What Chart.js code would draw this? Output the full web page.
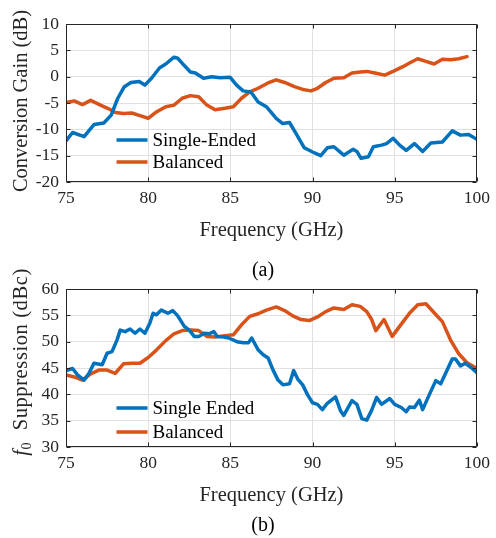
<!DOCTYPE html>
<html>
<head>
<meta charset="utf-8">
<script src="https://cdn.jsdelivr.net/npm/chart.js@4.4.1/dist/chart.umd.min.js"></script>
<style>
  body { margin: 0; background: #fff; }
  #fig { position: relative; width: 496px; height: 538px; font-family: 'Liberation Serif', 'Times New Roman', serif; }
  #fig canvas { position: absolute; left: 0; }
  .cap { position: absolute; left: 213px; width: 100px; text-align: center; font-size: 20px; line-height: 20px; color: #000; }
</style>
</head>
<body>
<div id="fig">
  <canvas id="gainChart" width="496" height="250" style="top:0"></canvas>
  <canvas id="suppChart" width="496" height="250" style="top:265px"></canvas>
  <div class="cap" style="top:259px">(a)</div>
  <div class="cap" style="top:514px">(b)</div>
</div>
<script>
// (a) conversion gain, dB
const seFreqA = [75.0, 75.4, 76.1, 76.7, 77.3, 77.75, 78.15, 78.55, 78.95, 79.45, 79.8, 80.2, 80.7, 81.07, 81.57, 81.8, 82.17, 82.57, 82.87, 83.37,
  83.87, 84.38, 84.98, 85.38, 85.78, 86.25, 86.69, 87.19, 87.79, 88.19, 88.6, 89.0, 89.5, 90.0, 90.5, 90.9, 91.3, 91.9, 92.47, 92.7,
  92.95, 93.4, 93.7, 94.2, 94.5, 94.9, 95.3, 95.7, 96.2, 96.7, 97.2, 97.9, 98.5, 99.0, 99.5, 100.0];
const seGainA = [-12.2, -10.6, -11.4, -9.1, -8.8, -7.3, -4.1, -1.9, -1.1, -0.9, -1.6, -0.3, 1.7, 2.4, 3.7, 3.5, 2.2, 0.9, 0.7, -0.3,
  0.0, -0.2, -0.1, -1.6, -2.7, -2.9, -4.8, -5.7, -7.9, -8.9, -8.7, -10.8, -13.5, -14.3, -15.0, -13.5, -13.3, -14.9, -13.8, -14.2,
  -15.5, -15.2, -13.3, -13.0, -12.7, -11.7, -13.0, -14.0, -12.7, -14.2, -12.6, -12.4, -10.3, -11.1, -11.0, -11.9];
const balFreqA = [75.0, 75.5, 76.0, 76.5, 77.1, 77.6, 78.0, 78.5, 79.0, 79.5, 80.0, 80.5, 81.07, 81.57, 82.07, 82.57, 83.07, 83.57, 84.07, 84.67,
  85.18, 85.68, 86.18, 86.69, 87.29, 87.79, 88.3, 88.9, 89.5, 89.9, 90.3, 90.8, 91.3, 91.9, 92.4, 92.9, 93.3, 93.8, 94.4, 94.9,
  95.5, 95.9, 96.4, 96.9, 97.4, 97.9, 98.4, 98.9, 99.4];
const balGainA = [-4.9, -4.6, -5.3, -4.5, -5.4, -6.1, -6.8, -7.0, -6.9, -7.4, -7.9, -6.7, -5.7, -5.4, -4.1, -3.6, -3.8, -5.4, -6.3, -6.0,
  -5.7, -4.1, -2.9, -2.2, -1.2, -0.6, -1.1, -1.9, -2.5, -2.7, -2.2, -1.1, -0.3, -0.2, 0.7, 0.9, 1.0, 0.7, 0.3, 1.0,
  1.9, 2.6, 3.4, 2.9, 2.4, 3.3, 3.2, 3.4, 3.8];

// (b) f0 suppression, dBc
const seFreqB = [75.0, 75.4, 75.7, 76.1, 76.4, 76.7, 77.2, 77.5, 77.8, 78.1, 78.3, 78.6, 78.9, 79.2, 79.5, 79.8, 80.1, 80.3, 80.5, 80.8,
  81.2, 81.5, 81.8, 82.2, 82.5, 82.8, 83.1, 83.4, 83.7, 84.0, 84.2, 84.6, 84.9, 85.4, 85.8, 86.1, 86.3, 86.7, 87.0, 87.3,
  87.6, 87.9, 88.2, 88.6, 88.85, 89.1, 89.4, 89.7, 90.0, 90.3, 90.6, 90.9, 91.4, 91.7, 91.9, 92.4, 92.7, 93.0, 93.3, 93.6,
  93.9, 94.2, 94.7, 95.0, 95.4, 95.7, 95.9, 96.2, 96.5, 96.7, 97.1, 97.5, 97.8, 98.1, 98.5, 98.7, 99.0, 99.3, 99.65, 100.0];
const seSuppB = [44.5, 44.9, 43.7, 42.7, 44.0, 45.9, 45.6, 47.8, 48.1, 50.3, 52.2, 51.9, 52.4, 51.6, 52.4, 51.6, 53.5, 55.4, 55.1, 56.0,
  55.4, 55.9, 54.9, 52.9, 52.2, 51.0, 51.0, 51.6, 51.5, 51.9, 51.0, 50.9, 50.7, 50.0, 49.8, 49.8, 50.7, 48.4, 47.5, 46.9,
  44.6, 42.7, 41.8, 42.0, 44.5, 42.9, 41.8, 39.9, 38.4, 38.1, 37.1, 38.3, 39.5, 36.9, 36.0, 38.8, 38.1, 35.4, 35.1, 37.0,
  39.4, 38.1, 39.2, 38.1, 37.5, 36.7, 37.6, 37.5, 38.9, 37.1, 39.9, 42.6, 42.0, 44.0, 46.7, 46.7, 45.4, 45.9, 45.1, 44.1];
const balFreqB = [75.0, 75.5, 76.0, 76.5, 77.0, 77.5, 78.0, 78.5, 79.0, 79.5, 80.0, 80.5, 81.07, 81.57, 82.07, 82.57, 83.07, 83.57, 84.07, 84.57,
  85.18, 85.68, 86.18, 86.69, 87.19, 87.8, 88.3, 88.8, 89.3, 89.8, 90.3, 90.8, 91.3, 91.9, 92.4, 92.9, 93.3, 93.6, 93.85, 94.35,
  94.85, 95.3, 95.9, 96.4, 96.9, 97.4, 97.9, 98.4, 98.9, 99.4, 100.0];
const balSuppB = [43.7, 43.3, 42.7, 43.9, 44.6, 44.6, 44.0, 45.8, 45.9, 45.9, 47.0, 48.4, 50.2, 51.5, 52.1, 52.2, 52.1, 51.0, 50.9, 51.1,
  51.3, 53.2, 54.8, 55.3, 56.0, 56.6, 55.9, 54.9, 54.2, 54.0, 54.7, 55.7, 56.4, 56.1, 57.0, 56.7, 55.7, 54.2, 52.1, 54.2,
  51.0, 52.9, 55.4, 57.0, 57.2, 55.5, 53.8, 50.3, 47.7, 46.0, 44.9];

const freqTicks = [75, 80, 85, 90, 95, 100];
const gainTicks = [-20, -15, -10, -5, 0, 5, 10];
const suppTicks = [30, 35, 40, 45, 50, 55, 60];

const BLUE = '#0072BD';
const ORANGE = '#D95319';
const AXIS = '#262626';
const GRID = '#e0e0e0';
const SERIF = "'Liberation Serif', 'Times New Roman', serif";

const pts = (xs, ys) => xs.map((x, i) => ({ x: x, y: ys[i] }));

// frame round the axes with inward ticks on all four sides, like matlab
const framePlugin = {
  id: 'axesFrame',
  afterDraw(chart) {
    const { ctx, chartArea: a, scales } = chart;
    const L = Math.round(a.left) + 0.5, R = Math.round(a.right) - 0.5;
    const T = Math.round(a.top) + 0.5, B = Math.round(a.bottom) - 0.5;
    ctx.save();
    ctx.strokeStyle = AXIS;
    ctx.lineWidth = 1;
    ctx.beginPath();
    freqTicks.forEach(v => {
      const p = Math.round(scales.x.getPixelForValue(v)) + 0.5;
      ctx.moveTo(p, B); ctx.lineTo(p, B - 4);
      ctx.moveTo(p, T); ctx.lineTo(p, T + 4);
    });
    scales.y.ticks.forEach(t => {
      const p = Math.round(scales.y.getPixelForValue(t.value)) + 0.5;
      ctx.moveTo(L, p); ctx.lineTo(L + 4, p);
      ctx.moveTo(R, p); ctx.lineTo(R - 4, p);
    });
    ctx.rect(L, T, R - L, B - T);
    ctx.stroke();
    ctx.restore();
  }
};

// legend drawn inside the axes, rows measured up from the bottom edge
function makeLegend(rows) {
  return {
    id: 'innerLegend',
    afterDraw(chart) {
      const { ctx, chartArea: a } = chart;
      ctx.save();
      ctx.font = '19px ' + SERIF;
      ctx.textBaseline = 'middle';
      chart.data.datasets.forEach((ds, i) => {
        const y = a.bottom - rows[i];
        ctx.strokeStyle = ds.borderColor;
        ctx.lineWidth = ds.borderWidth;
        ctx.beginPath();
        ctx.moveTo(116.5, y); ctx.lineTo(147.5, y);
        ctx.stroke();
        ctx.fillStyle = '#000';
        ctx.fillText(ds.label, 152.5, y + 1);
      });
      ctx.restore();
    }
  };
}

// rotated y label, parts can be italic or subscript
function makeYTitle(parts, baseX, dy, spacing) {
  return {
    id: 'yTitle',
    afterDraw(chart) {
      const { ctx, chartArea: a } = chart;
      const size = 20.5;
      const fontOf = p => (p.italic ? 'italic ' : '') + (p.sub ? size * 0.7 : size) + 'px ' + SERIF;
      ctx.save();
      ctx.letterSpacing = spacing + 'px';
      const widths = parts.map(p => { ctx.font = fontOf(p); return ctx.measureText(p.text).width; });
      const total = widths.reduce((s, w) => s + w, 0);
      ctx.translate(baseX, (a.top + a.bottom) / 2 + dy);
      ctx.rotate(-Math.PI / 2);
      ctx.fillStyle = AXIS;
      ctx.textBaseline = 'alphabetic';
      let x = -total / 2;
      parts.forEach((p, i) => {
        ctx.font = fontOf(p);
        ctx.fillText(p.text, x, p.sub ? 4 : 0);
        x += widths[i];
      });
      ctx.restore();
    }
  };
}

function makeOptions(yMin, yMax, yTicks) {
  return {
    responsive: false,
    animation: false,
    devicePixelRatio: 1,
    layout: { padding: { top: 24, right: 15, left: 0, bottom: 0 } },
    plugins: { legend: { display: false }, tooltip: { enabled: false } },
    elements: { point: { radius: 0 }, line: { tension: 0, borderJoinStyle: 'round', borderCapStyle: 'round' } },
    scales: {
      x: {
        type: 'linear', min: 75, max: 100,
        afterBuildTicks: s => { s.ticks = freqTicks.map(v => ({ value: v })); },
        afterFit: s => { s.height = 68; },
        grid: { color: GRID, drawTicks: false },
        border: { display: false },
        ticks: { color: AXIS, padding: 6, font: { family: SERIF, size: 17.5 }, maxRotation: 0 },
        title: { display: true, text: 'Frequency (GHz)', color: AXIS, font: { family: SERIF, size: 20.5 }, padding: { top: 0, bottom: 7 } }
      },
      y: {
        min: yMin, max: yMax,
        afterBuildTicks: s => { s.ticks = yTicks.map(v => ({ value: v })); },
        afterFit: s => { s.width = 66; },
        grid: { color: GRID, drawTicks: false },
        border: { display: false },
        ticks: { color: AXIS, padding: 7, font: { family: SERIF, size: 17.5 } }
      }
    }
  };
}

new Chart(document.getElementById('gainChart'), {
  type: 'line',
  data: {
    datasets: [
      { label: 'Single-Ended', data: pts(seFreqA, seGainA), borderColor: BLUE, borderWidth: 3.5 },
      { label: 'Balanced', data: pts(balFreqA, balGainA), borderColor: ORANGE, borderWidth: 3.5 }
    ]
  },
  options: makeOptions(-20, 10, gainTicks),
  plugins: [framePlugin, makeLegend([42, 20]), makeYTitle([{ text: 'Conversion Gain (dB)' }], 26.5, -2, 0)]
});

new Chart(document.getElementById('suppChart'), {
  type: 'line',
  data: {
    datasets: [
      { label: 'Single Ended', data: pts(seFreqB, seSuppB), borderColor: BLUE, borderWidth: 3.5 },
      { label: 'Balanced', data: pts(balFreqB, balSuppB), borderColor: ORANGE, borderWidth: 3.5 }
    ]
  },
  options: makeOptions(30, 60, suppTicks),
  plugins: [framePlugin, makeLegend([39, 15]),
    makeYTitle([{ text: 'f', italic: true }, { text: '0', sub: true }, { text: '  Suppression (dBc)' }], 27, -6, 0.6)]
});
</script>
</body>
</html>
